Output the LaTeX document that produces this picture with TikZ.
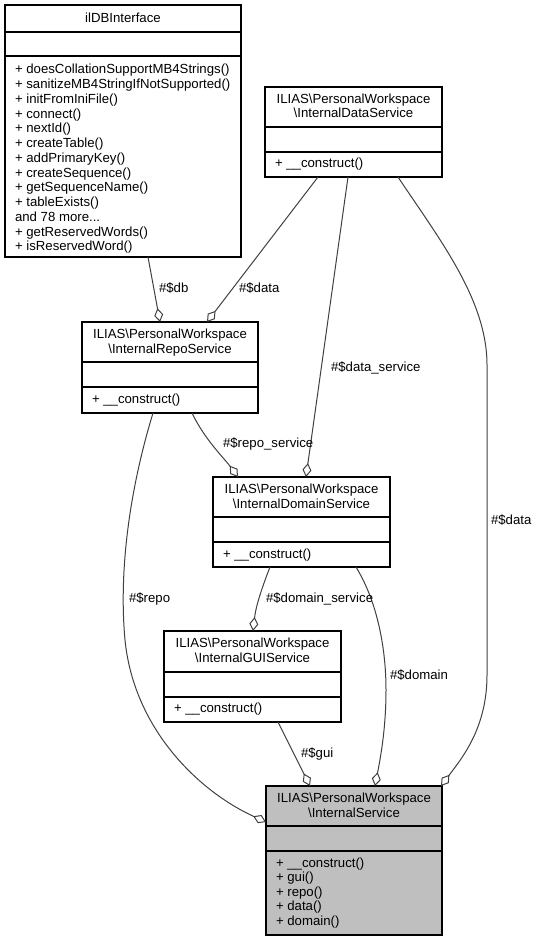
\documentclass[tikz,border=0pt]{standalone}
\usepackage{fontspec}
\setmainfont{Liberation Sans}
\usetikzlibrary{arrows.meta,calc}
\definecolor{edgec}{RGB}{64,64,64}
\definecolor{svcfill}{RGB}{191,191,191}
\newcommand{\clsSep}[2]{\draw[clsline] ($(#1.north west)+(0,#2)$) -- ($(#1.north east)+(0,#2)$);}
\newcommand{\mydots}{...}
\begin{document}
\begin{tikzpicture}[x=1pt,y=-1pt,
  cls/.style={draw=black,line width=1.2pt,inner sep=0pt,outer sep=0pt,fill=white},
  clsline/.style={draw=black,line width=1.2pt},
  txt/.style={inner sep=0pt,outer sep=0pt,font=\fontsize{13.2}{14.75}\selectfont},
  edge/.style={draw=edgec,line width=1pt,-{Diamond[open,length=14pt,width=9pt]}}
]
\useasboundingbox (0,0) rectangle (537,941);

% ---------- ilDBInterface
\node[cls,minimum width=236,minimum height=252,anchor=north west] (db) at (5,5) {};
\clsSep{db}{27}
\clsSep{db}{51}
\node[txt,anchor=base] (db-t) at ($(db.north)+(0,17.5)$) {ilDBInterface};
\foreach \t [count=\i] in {+ doesCollationSupportMB4Strings(),+ sanitizeMB4StringIfNotSupported(),+ initFromIniFile(),+ connect(),+ nextId(),+ createTable(),+ addPrimaryKey(),+ createSequence(),+ getSequenceName(),+ tableExists(),{and 78 more\mydots},+ getReservedWords(),+ isReservedWord()}
  \node[txt,anchor=base west] (db-m\i) at ($(db.north west)+(10,{68.8+14.75*(\i-1)})$) {\t};

% ---------- InternalDataService
\node[cls,minimum width=177,minimum height=90,anchor=north west] (data) at (265,87) {};
\clsSep{data}{40}
\clsSep{data}{65}
\node[txt,anchor=base] (data-t1) at ($(data.north)+(0,16.3)$) {ILIAS\textbackslash PersonalWorkspace};
\node[txt,anchor=base] (data-t2) at ($(data.north)+(0,31)$) {\textbackslash InternalDataService};
\node[txt,anchor=base west] (data-m1) at ($(data.north west)+(10,81)$) {+ \_\_construct()};

% ---------- InternalRepoService
\node[cls,minimum width=176,minimum height=91,anchor=north west] (repo) at (82,322) {};
\clsSep{repo}{40}
\clsSep{repo}{65}
\node[txt,anchor=base] (repo-t1) at ($(repo.north)+(0,16.3)$) {ILIAS\textbackslash PersonalWorkspace};
\node[txt,anchor=base] (repo-t2) at ($(repo.north)+(0,31)$) {\textbackslash InternalRepoService};
\node[txt,anchor=base west] (repo-m1) at ($(repo.north west)+(10,81)$) {+ \_\_construct()};

% ---------- InternalDomainService
\node[cls,minimum width=177,minimum height=90,anchor=north west] (dom) at (213,477) {};
\clsSep{dom}{40}
\clsSep{dom}{65}
\node[txt,anchor=base] (dom-t1) at ($(dom.north)+(0,16.3)$) {ILIAS\textbackslash PersonalWorkspace};
\node[txt,anchor=base] (dom-t2) at ($(dom.north)+(0,31)$) {\textbackslash InternalDomainService};
\node[txt,anchor=base west] (dom-m1) at ($(dom.north west)+(10,81)$) {+ \_\_construct()};

% ---------- InternalGUIService
\node[cls,minimum width=177,minimum height=91,anchor=north west] (gui) at (164,631) {};
\clsSep{gui}{41}
\clsSep{gui}{66}
\node[txt,anchor=base] (gui-t1) at ($(gui.north)+(0,16.3)$) {ILIAS\textbackslash PersonalWorkspace};
\node[txt,anchor=base] (gui-t2) at ($(gui.north)+(0,31)$) {\textbackslash InternalGUIService};
\node[txt,anchor=base west] (gui-m1) at ($(gui.north west)+(10,81.5)$) {+ \_\_construct()};

% ---------- InternalService
\node[cls,fill=svcfill,minimum width=176,minimum height=149,anchor=north west] (svc) at (266,786) {};
\clsSep{svc}{40}
\clsSep{svc}{65}
\node[txt,anchor=base] (svc-t1) at ($(svc.north)+(0,16.5)$) {ILIAS\textbackslash PersonalWorkspace};
\node[txt,anchor=base] (svc-t2) at ($(svc.north)+(0,31.2)$) {\textbackslash InternalService};
\foreach \t [count=\i] in {+ \_\_construct(),+ gui(),+ repo(),+ data(),+ domain()}
  \node[txt,anchor=base west] (svc-m\i) at ($(svc.north west)+(10,{81.3+14.5*(\i-1)})$) {\t};

% ---------- connectors
\draw[edge] ($(db.south west)+(143,0)$) -- ($(repo.north west)+(78,0)$);
\draw[edge] ($(data.south west)+(53,0)$) -- ($(repo.north west)+(125,0)$);
\draw[edge] ($(data.south west)+(83,0)$) -- ($(dom.north west)+(93,0)$);
\draw[edge] ($(data.south west)+(133,0)$) .. controls (440,240) and (487,300) .. (487,365)
   -- (487,675) .. controls (487,728) and (462,758) .. ($(svc.north east)+(-1,0)$);
\draw[edge] ($(repo.south west)+(71,0)$) .. controls (128,495) and (119,575) .. (125,640)
   .. controls (134,730) and (200,792) .. ($(svc.north west)+(0,36)$);
\draw[edge] ($(repo.south west)+(110,0)$) .. controls (205,440) and (224,458) .. ($(dom.north west)+(25,0)$);
\draw[edge] ($(dom.south west)+(57,0)$) .. controls (263,585) and (256,605) .. ($(gui.north west)+(89,0)$);
\draw[edge] ($(dom.south west)+(143,0)$) .. controls (378,603) and (386,650) .. (386,690)
   .. controls (386,730) and (380,760) .. ($(svc.north west)+(109,0)$);
\draw[edge] ($(gui.south west)+(114,0)$) -- ($(svc.north west)+(44,0)$);

% ---------- labels
\node[txt,anchor=base west] (l-db) at (159,292.5) {\#\$db};
\node[txt,anchor=base west] (l-data1) at (239,292.5) {\#\$data};
\node[txt,anchor=base west] (l-dataserv) at (331,371) {\#\$data\_service};
\node[txt,anchor=base west] (l-data2) at (491,524.5) {\#\$data};
\node[txt,anchor=base west] (l-repo) at (129,602.5) {\#\$repo};
\node[txt,anchor=base west] (l-reposerv) at (223,447.5) {\#\$repo\_service};
\node[txt,anchor=base west] (l-domserv) at (266,602.5) {\#\$domain\_service};
\node[txt,anchor=base west] (l-dom) at (390,679.5) {\#\$domain};
\node[txt,anchor=base west] (l-gui) at (301,757.5) {\#\$gui};
\end{tikzpicture}
\end{document}
